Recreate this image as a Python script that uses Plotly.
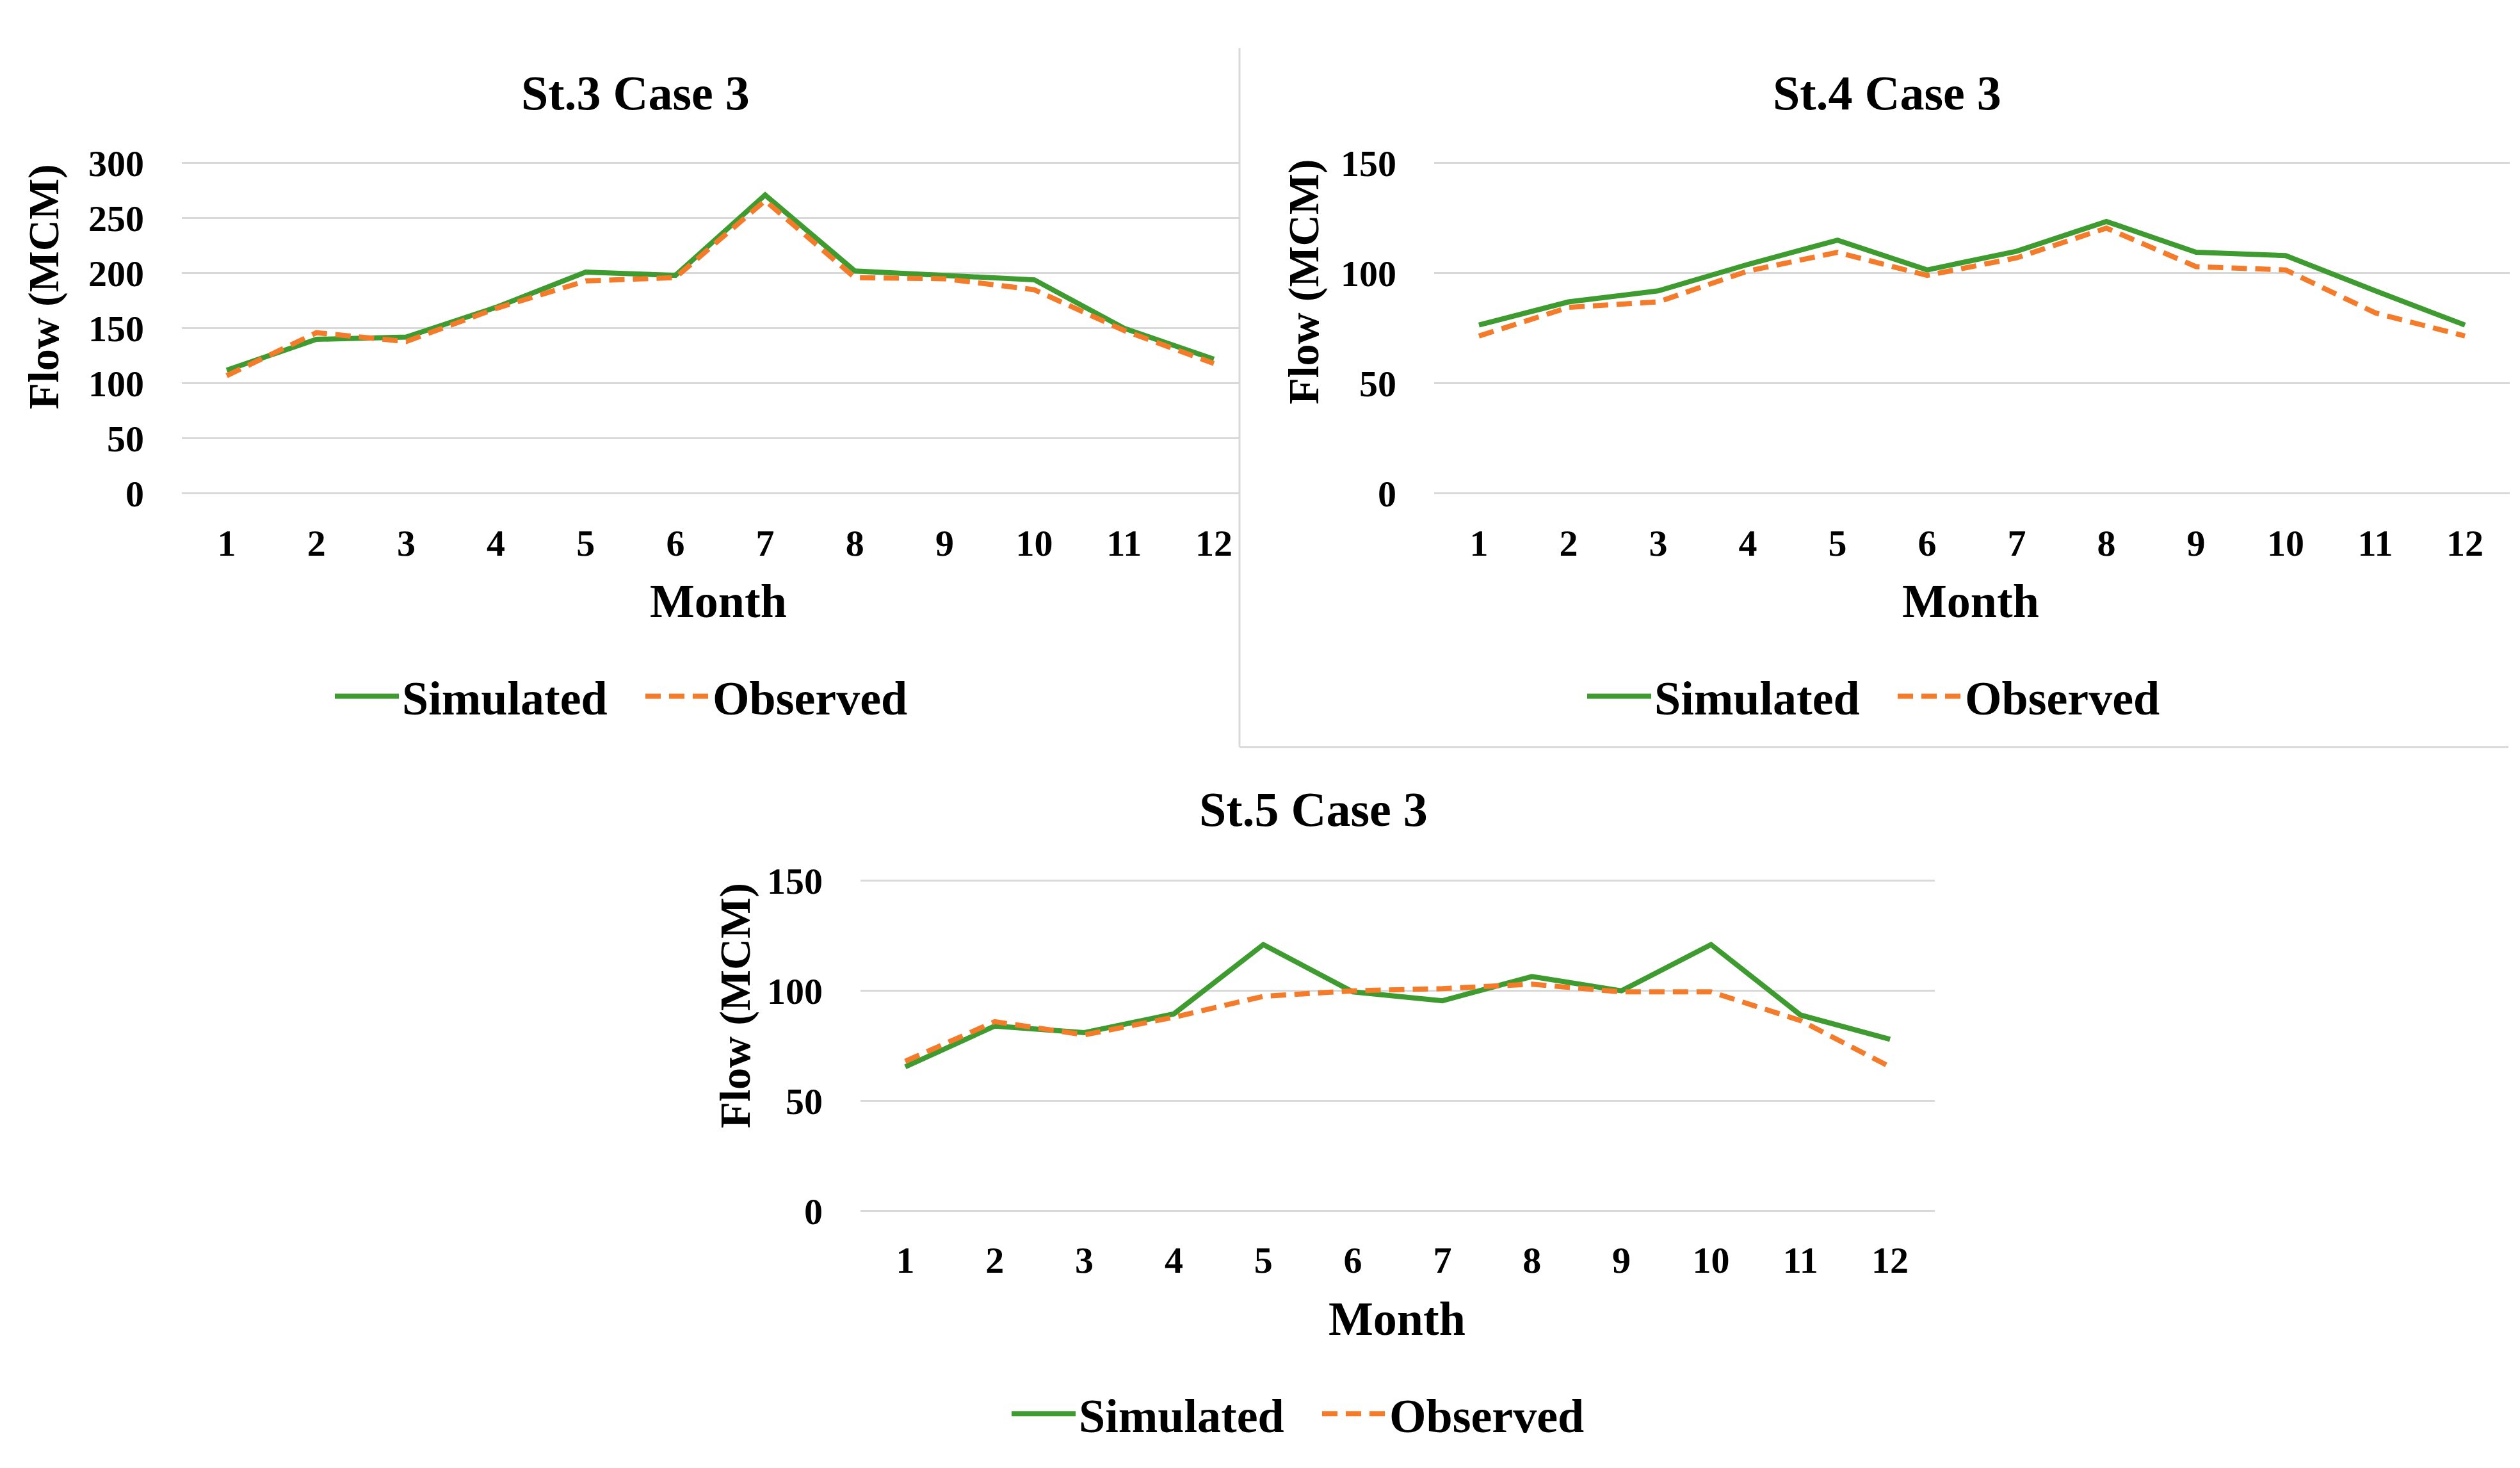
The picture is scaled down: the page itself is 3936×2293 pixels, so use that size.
import plotly.graph_objects as go

W, H = 3936, 2293

months = [str(m) for m in range(1, 13)]

st3_sim = [112, 140, 142, 169, 201, 198, 271, 202, 198, 194, 150, 122]
st3_obs = [107, 146, 138, 168, 193, 196, 266, 196, 195, 185, 148, 118]

st4_sim = [76.5, 87, 92, 104, 115, 101.5, 110, 123.5, 109.5, 108, 92, 76.5]
st4_obs = [71.5, 84.5, 87, 101, 109.5, 99, 107, 120.5, 103, 101.5, 82, 71.5]

st5_sim = [65.5, 84, 81, 89.5, 121, 99.5, 95.5, 106.5, 100, 121, 89, 78]
st5_obs = [68, 86, 80, 88, 97.5, 100, 101, 103, 99.5, 99.5, 86.5, 65.5]

titles = ["St.3 Case 3", "St.4 Case 3", "St.5 Case 3"]
y_ranges = [[-1, 301], [-0.5, 150.5], [-0.5, 150.5]]
y_dticks = [50, 50, 50]

GREEN = "#3E9B2F"
ORANGE = "#F47B2A"
FONT = "Liberation Serif"

def px(x):
    return x / W

def py(y):
    return 1 - y / H

# panel geometry in pixels: (x0, x1, ytop, ybottom)
panels = [
    (276, 1958, 221, 755),
    (2232, 3912, 221, 755),
    (1336, 3014, 1373, 1907),
]
title_pos = [(984, 110), (2939, 110), (2043, 1260)]
month_pos = [(1114, 926), (3070, 926), (2174, 2078)]
ytitle_pos = [(60, 422), (2028, 414), (1140, 1576)]
legend_pos = [(995, 1079), (2951, 1079), (2052, 2231)]

series = [(st3_sim, st3_obs), (st4_sim, st4_obs), (st5_sim, st5_obs)]

fig = go.Figure()
layout_updates = {}
annotations = []

for i, ((sim, obs), (x0, x1, yt, yb)) in enumerate(zip(series, panels)):
    n = "" if i == 0 else str(i + 1)
    leg = "legend" if i == 0 else f"legend{i+1}"
    fig.add_trace(go.Scatter(
        x=months, y=sim, name="Simulated", mode="lines",
        line=dict(color=GREEN, width=8),
        xaxis=f"x{n}", yaxis=f"y{n}", legend=leg,
    ))
    fig.add_trace(go.Scatter(
        x=months, y=obs, name="Observed", mode="lines",
        line=dict(color=ORANGE, width=8, dash="24px,13px"),
        xaxis=f"x{n}", yaxis=f"y{n}", legend=leg,
    ))
    layout_updates[f"xaxis{n}"] = dict(
        domain=[px(x0), px(x1)], anchor=f"y{n}",
        type="category", range=[-0.5, 11.5],
        showgrid=False, showline=False, zeroline=False, ticks="",
        tickfont=dict(family=FONT, size=58, color="black", weight="bold"),
        ticklabelstandoff=36,
    )
    layout_updates[f"yaxis{n}"] = dict(
        domain=[py(yb), py(yt)], anchor=f"x{n}",
        range=y_ranges[i], dtick=y_dticks[i], tick0=0,
        showgrid=True, gridcolor="#D9D9D9", gridwidth=3,
        showline=False, zeroline=False, ticks="",
        tickfont=dict(family=FONT, size=58, color="black", weight="bold"),
        ticklabelstandoff=58,
    )
    lx, ly = legend_pos[i]
    layout_updates[leg] = dict(
        x=px(lx), y=py(ly), xanchor="center", yanchor="middle",
        orientation="h", bgcolor="rgba(0,0,0,0)",
        font=dict(family=FONT, size=74, color="black", weight="bold"),
        itemwidth=100, tracegroupgap=0,
        entrywidthmode="pixels", entrywidth=370,
    )
    tx, ty = title_pos[i]
    annotations.append(dict(
        text=titles[i], x=px(tx), y=py(ty), xref="paper", yref="paper",
        showarrow=False, xanchor="center", yanchor="middle",
        font=dict(family=FONT, size=76, color="black", weight="bold"),
    ))
    mx, my = month_pos[i]
    annotations.append(dict(
        text="Month", x=px(mx), y=py(my), xref="paper", yref="paper",
        showarrow=False, xanchor="center", yanchor="middle",
        font=dict(family=FONT, size=74, color="black", weight="bold"),
    ))
    ax_, ay_ = ytitle_pos[i]
    annotations.append(dict(
        text="Flow (MCM)", x=px(ax_), y=py(ay_), xref="paper", yref="paper",
        showarrow=False, xanchor="center", yanchor="middle", textangle=-90,
        font=dict(family=FONT, size=68, color="black", weight="bold"),
    ))

shapes = [
    dict(type="rect", xref="paper", yref="paper", layer="above",
         x0=px(1929), x1=px(1966), y0=py(200), y1=py(780),
         fillcolor="white", line=dict(width=0)),
    dict(type="line", xref="paper", yref="paper", layer="above",
         x0=px(1928), x1=px(1928), y0=py(38), y1=py(1160),
         line=dict(color="#D9D9D9", width=3)),
    dict(type="line", xref="paper", yref="paper", layer="above",
         x0=px(1928), x1=px(3910), y0=py(1160), y1=py(1160),
         line=dict(color="#D9D9D9", width=3)),
]

fig.update_layout(
    width=W, height=H,
    margin=dict(l=0, r=0, t=0, b=0),
    paper_bgcolor="white", plot_bgcolor="white",
    annotations=annotations, shapes=shapes,
    **layout_updates,
)

fig.write_html("out.html")
